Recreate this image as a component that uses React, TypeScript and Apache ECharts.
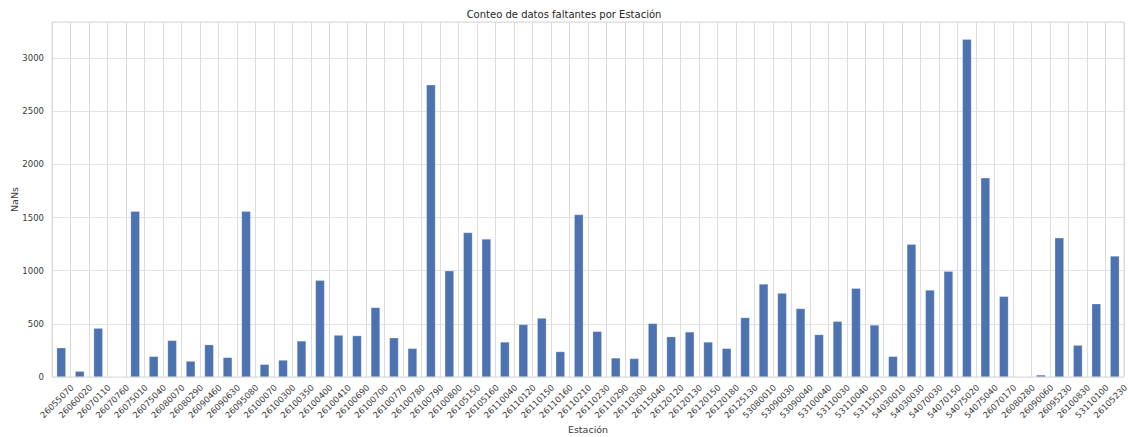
import React, { useEffect, useRef } from "react";
import * as echarts from "echarts";

const stations = [
  "26055070", "26060020", "26070110", "26070760", "26075010", "26075040", "26080070", "26080290",
  "26090460", "26090630", "26095080", "26100070", "26100300", "26100350", "26100400", "26100410",
  "26100690", "26100700", "26100770", "26100780", "26100790", "26100800", "26105150", "26105160",
  "26110040", "26110120", "26110150", "26110160", "26110210", "26110230", "26110290", "26110300",
  "26115040", "26120120", "26120130", "26120150", "26120180", "26125130", "53080010", "53090030",
  "53090040", "53100040", "53110030", "53110040", "53115010", "54030010", "54030030", "54070030",
  "54070150", "54075020", "54075040", "26070170", "26080280", "26090060", "26095230", "26100830",
  "53110100", "26105230",
];

const nanCounts = [
  275, 55, 460, 0, 1560, 195, 345, 150,
  305, 185, 1560, 120, 160, 340, 910, 395,
  390, 655, 370, 270, 2750, 1000, 1360, 1300,
  330, 495, 555, 240, 1530, 430, 180, 175,
  505, 380, 425, 330, 270, 560, 875, 790,
  645, 400, 525, 835, 490, 195, 1250, 820,
  995, 3180, 1875, 760, 6, 20, 1310, 300,
  690, 1140,
];

const yTicks = { min: 0, max: 3341, interval: 500 };

export default function App() {
  const ref = useRef<HTMLDivElement>(null);
  useEffect(() => {
    if (!ref.current) return;
    const chart = echarts.init(ref.current, undefined, { renderer: "svg" });
    const textColor = "#3a3a3a";
    const font = "DejaVu Sans";
    chart.setOption({
      animation: false,
      backgroundColor: "#ffffff",
      title: {
        text: "Conteo de datos faltantes por Estación",
        left: "center",
        top: 4,
        textStyle: { fontFamily: font, fontSize: 10, fontWeight: "normal", color: "#262626" },
      },
      grid: [
        { left: 52, top: 22, width: 1072, height: 355, show: true, borderColor: "#d6d6d6", borderWidth: 1, containLabel: false, outerBoundsMode: "none" },
        { left: 63, top: 22, width: 1072, height: 355, show: false, containLabel: false, outerBoundsMode: "none" },
      ],
      xAxis: [
        {
          type: "category",
          gridIndex: 0,
          data: stations,
          name: "Estación",
          nameLocation: "middle",
          nameGap: 47,
          nameMoveOverlap: false,
          nameTextStyle: { fontFamily: font, fontSize: 9.5, color: textColor },
          axisLine: { show: false },
          axisTick: { show: false },
          axisLabel: { show: false },
          splitLine: { show: true, interval: 0, lineStyle: { color: "#dcdcdc", width: 1 } },
        },
        {
          type: "category",
          gridIndex: 1,
          data: stations,
          axisLine: { show: false },
          axisTick: { show: false },
          splitLine: { show: false },
          axisLabel: {
            interval: 0,
            rotate: 45,
            margin: 9,
            fontFamily: font,
            fontSize: 8.5,
            color: textColor,
          },
        },
      ],
      yAxis: [
        {
          type: "value",
          gridIndex: 0,
          min: yTicks.min,
          max: yTicks.max,
          interval: yTicks.interval,
          name: "NaNs",
          nameLocation: "middle",
          nameGap: 33,
          nameMoveOverlap: false,
          nameTextStyle: { fontFamily: font, fontSize: 9.5, color: textColor },
          axisLine: { show: false },
          axisTick: { show: false },
          axisLabel: {
            margin: 8,
            fontFamily: font,
            fontSize: 8.5,
            color: textColor,
            showMaxLabel: false,
            formatter: (v: number) => String(v),
          },
          splitLine: { show: true, lineStyle: { color: "#e3e3e3", width: 1 } },
        },
        { type: "value", gridIndex: 1, show: false, min: 0, max: 1 },
      ],
      series: [
        {
          type: "bar",
          xAxisIndex: 0,
          yAxisIndex: 0,
          data: nanCounts,
          barWidth: "50%",
          itemStyle: { color: "#4c72b0", borderColor: "rgba(255,255,255,0.45)", borderWidth: 0.6 },
        },
      ],
    });
    return () => chart.dispose();
  }, []);
  return (
    <div
      ref={ref}
      style={{ position: "fixed", left: 0, top: 0, width: 1128, height: 437 }}
    />
  );
}
